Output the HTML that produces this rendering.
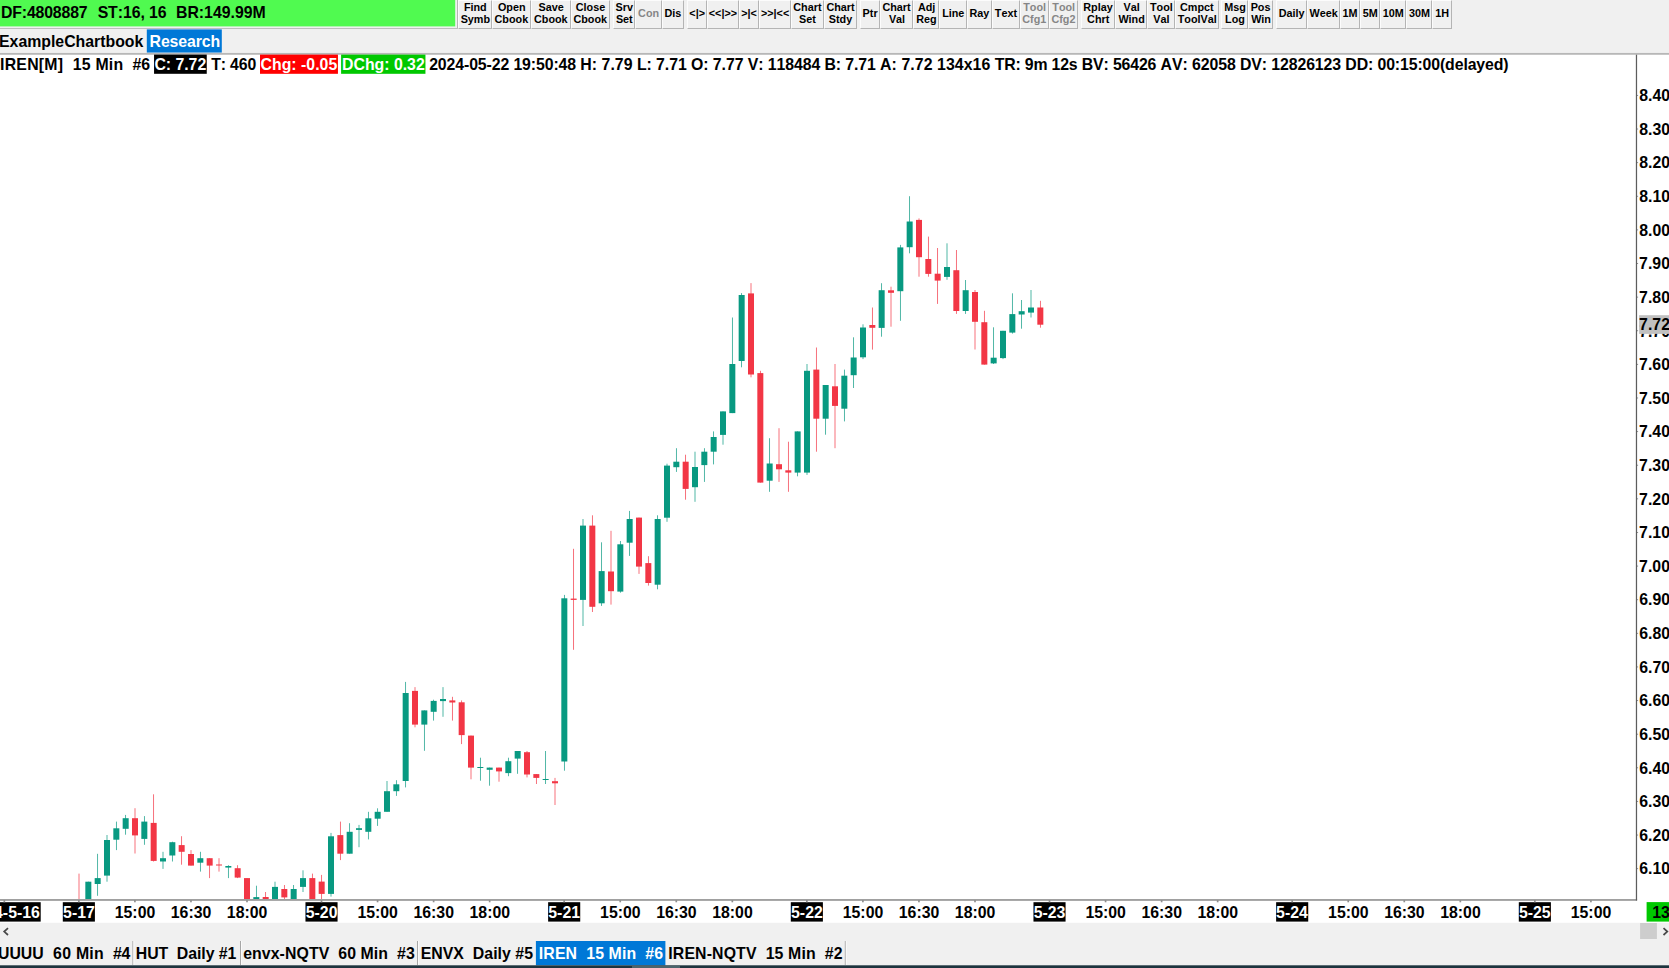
<!DOCTYPE html>
<html><head><meta charset="utf-8"><title>Chart</title>
<style>
html,body{margin:0;padding:0}
body{width:1669px;height:968px;overflow:hidden;background:#F0F0F0;position:relative;font-family:"Liberation Sans",Arial,sans-serif;font-weight:bold;color:#000;font-kerning:none}
div{position:absolute;box-sizing:border-box;white-space:pre}
svg{position:absolute;left:0;top:0}
.tb{top:0;height:28.9px;border-left:1px solid #FCFCFC;border-top:1px solid #FCFCFC;border-right:1px solid #B4B4B4;border-bottom:1px solid #B4B4B4}
</style></head><body>
<svg width="1669" height="968" viewBox="0 0 1669 968">
<rect x="0.00" y="0.00" width="455.20" height="26.40" fill="#50FA50"/>
<rect x="146.80" y="29.40" width="75.00" height="23.20" fill="#0078D7"/>
<rect x="0.00" y="52.90" width="1669.00" height="0.80" fill="#D4D4D4"/>
<rect x="0.00" y="53.60" width="1669.00" height="1.10" fill="#808080"/>
<rect x="0.00" y="54.60" width="1669.00" height="868.20" fill="#fff"/>
<rect x="154.05" y="54.60" width="52.70" height="19.20" fill="#000"/>
<rect x="260.00" y="54.60" width="77.95" height="19.20" fill="#FF0000"/>
<rect x="341.10" y="54.60" width="84.35" height="19.20" fill="#00C800"/>
<rect x="535.90" y="941.00" width="129.50" height="24.30" fill="#0078D7"/>
<rect x="132.40" y="941.00" width="1.00" height="24.00" fill="#A6A6A6"/>
<rect x="133.40" y="941.00" width="1.00" height="24.00" fill="#FAFAFA"/>
<rect x="240.00" y="941.00" width="1.00" height="24.00" fill="#A6A6A6"/>
<rect x="241.00" y="941.00" width="1.00" height="24.00" fill="#FAFAFA"/>
<rect x="417.00" y="941.00" width="1.00" height="24.00" fill="#A6A6A6"/>
<rect x="418.00" y="941.00" width="1.00" height="24.00" fill="#FAFAFA"/>
<rect x="844.80" y="941.00" width="1.00" height="24.00" fill="#A6A6A6"/>
<rect x="845.80" y="941.00" width="1.00" height="24.00" fill="#FAFAFA"/>
<rect x="0.00" y="902.20" width="40.70" height="19.40" fill="#000"/>
<rect x="62.80" y="902.20" width="32.10" height="19.40" fill="#000"/>
<rect x="305.47" y="902.20" width="32.10" height="19.40" fill="#000"/>
<rect x="548.13" y="902.20" width="32.10" height="19.40" fill="#000"/>
<rect x="790.80" y="902.20" width="32.10" height="19.40" fill="#000"/>
<rect x="1033.47" y="902.20" width="32.10" height="19.40" fill="#000"/>
<rect x="1276.13" y="902.20" width="32.10" height="19.40" fill="#000"/>
<rect x="1518.80" y="902.20" width="32.10" height="19.40" fill="#000"/>
<rect x="1646.60" y="902.10" width="22.40" height="19.50" fill="#00C800"/>
<rect x="1640.10" y="923.00" width="16.80" height="16.00" fill="#CDCDCD"/>
<defs><clipPath id="cp"><rect x="0" y="55" width="1636" height="844"/></clipPath></defs>
<g clip-path="url(#cp)">
<rect x="78.65" y="873.6" width="0.7" height="36.4" fill="#F23645"/>
<rect x="76.00" y="900.0" width="6" height="10.0" fill="#F23645"/>
<rect x="87.98" y="881.7" width="0.7" height="28.3" fill="#089981"/>
<rect x="85.33" y="881.7" width="6" height="28.3" fill="#089981"/>
<rect x="97.32" y="853.8" width="0.7" height="42.0" fill="#089981"/>
<rect x="94.67" y="878.1" width="6" height="5.9" fill="#089981"/>
<rect x="106.65" y="835.0" width="0.7" height="46.7" fill="#089981"/>
<rect x="104.00" y="840.0" width="6" height="35.6" fill="#089981"/>
<rect x="115.98" y="821.6" width="0.7" height="28.5" fill="#089981"/>
<rect x="113.33" y="828.3" width="6" height="11.4" fill="#089981"/>
<rect x="125.32" y="814.9" width="0.7" height="19.8" fill="#089981"/>
<rect x="122.67" y="818.2" width="6" height="10.6" fill="#089981"/>
<rect x="134.65" y="808.2" width="0.7" height="45.3" fill="#F23645"/>
<rect x="132.00" y="818.2" width="6" height="17.2" fill="#F23645"/>
<rect x="143.98" y="816.1" width="0.7" height="28.7" fill="#089981"/>
<rect x="141.33" y="821.6" width="6" height="17.3" fill="#089981"/>
<rect x="153.32" y="794.3" width="0.7" height="67.2" fill="#F23645"/>
<rect x="150.67" y="822.9" width="6" height="38.0" fill="#F23645"/>
<rect x="162.65" y="851.8" width="0.7" height="17.1" fill="#089981"/>
<rect x="160.00" y="858.2" width="6" height="3.3" fill="#089981"/>
<rect x="171.98" y="841.7" width="0.7" height="19.8" fill="#089981"/>
<rect x="169.33" y="842.2" width="6" height="13.3" fill="#089981"/>
<rect x="181.32" y="836.2" width="0.7" height="28.5" fill="#F23645"/>
<rect x="178.67" y="845.1" width="6" height="6.7" fill="#F23645"/>
<rect x="190.65" y="850.1" width="0.7" height="15.5" fill="#F23645"/>
<rect x="188.00" y="854.0" width="6" height="11.6" fill="#F23645"/>
<rect x="199.98" y="851.8" width="0.7" height="19.8" fill="#089981"/>
<rect x="197.33" y="858.2" width="6" height="4.5" fill="#089981"/>
<rect x="209.32" y="858.2" width="0.7" height="19.9" fill="#F23645"/>
<rect x="206.67" y="858.2" width="6" height="7.4" fill="#F23645"/>
<rect x="218.65" y="858.2" width="0.7" height="13.4" fill="#F23645"/>
<rect x="216.00" y="864.5" width="6" height="1.0" fill="#F23645"/>
<rect x="227.98" y="865.2" width="0.7" height="12.9" fill="#089981"/>
<rect x="225.33" y="866.0" width="6" height="1.6" fill="#089981"/>
<rect x="237.32" y="865.2" width="0.7" height="12.9" fill="#F23645"/>
<rect x="234.67" y="868.2" width="6" height="9.4" fill="#F23645"/>
<rect x="246.65" y="878.1" width="0.7" height="31.9" fill="#F23645"/>
<rect x="244.00" y="878.1" width="6" height="31.9" fill="#F23645"/>
<rect x="255.98" y="885.7" width="0.7" height="24.3" fill="#089981"/>
<rect x="253.33" y="897.1" width="6" height="12.9" fill="#089981"/>
<rect x="265.32" y="892.0" width="0.7" height="18.0" fill="#F23645"/>
<rect x="262.67" y="897.0" width="6" height="13.0" fill="#F23645"/>
<rect x="274.65" y="881.7" width="0.7" height="28.3" fill="#089981"/>
<rect x="272.00" y="886.9" width="6" height="23.1" fill="#089981"/>
<rect x="283.98" y="885.0" width="0.7" height="25.0" fill="#F23645"/>
<rect x="281.33" y="889.0" width="6" height="8.4" fill="#F23645"/>
<rect x="293.32" y="885.0" width="0.7" height="25.0" fill="#089981"/>
<rect x="290.67" y="889.0" width="6" height="21.0" fill="#089981"/>
<rect x="302.65" y="870.3" width="0.7" height="21.7" fill="#089981"/>
<rect x="300.00" y="878.1" width="6" height="8.8" fill="#089981"/>
<rect x="311.98" y="873.6" width="0.7" height="36.4" fill="#F23645"/>
<rect x="309.33" y="878.1" width="6" height="31.9" fill="#F23645"/>
<rect x="321.32" y="874.9" width="0.7" height="35.1" fill="#F23645"/>
<rect x="318.67" y="881.6" width="6" height="12.3" fill="#F23645"/>
<rect x="330.65" y="832.9" width="0.7" height="63.7" fill="#089981"/>
<rect x="328.00" y="836.3" width="6" height="57.6" fill="#089981"/>
<rect x="339.98" y="821.6" width="0.7" height="38.5" fill="#F23645"/>
<rect x="337.33" y="835.1" width="6" height="18.6" fill="#F23645"/>
<rect x="349.32" y="823.2" width="0.7" height="30.5" fill="#089981"/>
<rect x="346.67" y="831.8" width="6" height="21.9" fill="#089981"/>
<rect x="358.65" y="824.9" width="0.7" height="22.3" fill="#089981"/>
<rect x="356.00" y="828.2" width="6" height="1.7" fill="#089981"/>
<rect x="367.98" y="811.8" width="0.7" height="27.6" fill="#089981"/>
<rect x="365.33" y="818.3" width="6" height="13.5" fill="#089981"/>
<rect x="377.32" y="808.3" width="0.7" height="17.6" fill="#089981"/>
<rect x="374.67" y="811.8" width="6" height="6.9" fill="#089981"/>
<rect x="386.65" y="781.0" width="0.7" height="30.8" fill="#089981"/>
<rect x="384.00" y="791.2" width="6" height="20.6" fill="#089981"/>
<rect x="395.98" y="780.2" width="0.7" height="15.7" fill="#089981"/>
<rect x="393.33" y="784.3" width="6" height="6.9" fill="#089981"/>
<rect x="405.32" y="681.9" width="0.7" height="105.5" fill="#089981"/>
<rect x="402.67" y="693.0" width="6" height="88.0" fill="#089981"/>
<rect x="414.65" y="687.1" width="0.7" height="40.2" fill="#F23645"/>
<rect x="412.00" y="690.9" width="6" height="33.7" fill="#F23645"/>
<rect x="423.98" y="710.4" width="0.7" height="40.4" fill="#089981"/>
<rect x="421.33" y="710.4" width="6" height="14.2" fill="#089981"/>
<rect x="433.32" y="699.7" width="0.7" height="20.9" fill="#089981"/>
<rect x="430.67" y="700.9" width="6" height="10.9" fill="#089981"/>
<rect x="442.65" y="687.1" width="0.7" height="29.7" fill="#089981"/>
<rect x="440.00" y="699.0" width="6" height="2.1" fill="#089981"/>
<rect x="451.98" y="696.8" width="0.7" height="23.8" fill="#F23645"/>
<rect x="449.33" y="700.4" width="6" height="2.1" fill="#F23645"/>
<rect x="461.32" y="700.4" width="0.7" height="43.7" fill="#F23645"/>
<rect x="458.67" y="702.3" width="6" height="32.8" fill="#F23645"/>
<rect x="470.65" y="735.6" width="0.7" height="43.7" fill="#F23645"/>
<rect x="468.00" y="735.6" width="6" height="32.0" fill="#F23645"/>
<rect x="479.98" y="757.7" width="0.7" height="23.0" fill="#089981"/>
<rect x="477.33" y="767.0" width="6" height="1.0" fill="#089981"/>
<rect x="489.32" y="767.6" width="0.7" height="18.1" fill="#089981"/>
<rect x="486.67" y="767.6" width="6" height="2.2" fill="#089981"/>
<rect x="498.65" y="767.6" width="0.7" height="14.1" fill="#F23645"/>
<rect x="496.00" y="767.6" width="6" height="3.8" fill="#F23645"/>
<rect x="507.98" y="757.7" width="0.7" height="18.5" fill="#089981"/>
<rect x="505.33" y="761.2" width="6" height="11.9" fill="#089981"/>
<rect x="517.32" y="751.0" width="0.7" height="22.8" fill="#089981"/>
<rect x="514.67" y="751.0" width="6" height="7.6" fill="#089981"/>
<rect x="526.65" y="751.0" width="0.7" height="26.4" fill="#F23645"/>
<rect x="524.00" y="752.2" width="6" height="22.3" fill="#F23645"/>
<rect x="535.98" y="774.1" width="0.7" height="9.9" fill="#F23645"/>
<rect x="533.33" y="774.1" width="6" height="3.8" fill="#F23645"/>
<rect x="545.31" y="751.0" width="0.7" height="33.0" fill="#089981"/>
<rect x="542.66" y="779.0" width="6" height="1.0" fill="#089981"/>
<rect x="554.65" y="777.9" width="0.7" height="27.1" fill="#F23645"/>
<rect x="552.00" y="781.2" width="6" height="2.1" fill="#F23645"/>
<rect x="563.98" y="594.9" width="0.7" height="175.8" fill="#089981"/>
<rect x="561.33" y="598.3" width="6" height="163.2" fill="#089981"/>
<rect x="573.31" y="548.8" width="0.7" height="101.0" fill="#F23645"/>
<rect x="570.66" y="598.6" width="6" height="1.3" fill="#F23645"/>
<rect x="582.65" y="519.0" width="0.7" height="107.0" fill="#089981"/>
<rect x="580.00" y="525.6" width="6" height="74.3" fill="#089981"/>
<rect x="591.98" y="515.3" width="0.7" height="96.7" fill="#F23645"/>
<rect x="589.33" y="525.6" width="6" height="81.2" fill="#F23645"/>
<rect x="601.31" y="542.3" width="0.7" height="63.6" fill="#089981"/>
<rect x="598.66" y="571.1" width="6" height="32.2" fill="#089981"/>
<rect x="610.65" y="530.8" width="0.7" height="73.8" fill="#F23645"/>
<rect x="608.00" y="571.5" width="6" height="19.7" fill="#F23645"/>
<rect x="619.98" y="541.0" width="0.7" height="51.7" fill="#089981"/>
<rect x="617.33" y="544.3" width="6" height="47.3" fill="#089981"/>
<rect x="629.31" y="510.9" width="0.7" height="45.0" fill="#089981"/>
<rect x="626.66" y="519.0" width="6" height="23.7" fill="#089981"/>
<rect x="638.65" y="517.6" width="0.7" height="56.3" fill="#F23645"/>
<rect x="636.00" y="517.6" width="6" height="49.0" fill="#F23645"/>
<rect x="647.98" y="556.2" width="0.7" height="29.4" fill="#F23645"/>
<rect x="645.33" y="563.1" width="6" height="19.9" fill="#F23645"/>
<rect x="657.31" y="515.3" width="0.7" height="74.0" fill="#089981"/>
<rect x="654.66" y="519.0" width="6" height="65.7" fill="#089981"/>
<rect x="666.65" y="463.7" width="0.7" height="58.1" fill="#089981"/>
<rect x="664.00" y="465.6" width="6" height="52.1" fill="#089981"/>
<rect x="675.98" y="448.2" width="0.7" height="23.7" fill="#089981"/>
<rect x="673.33" y="461.7" width="6" height="5.5" fill="#089981"/>
<rect x="685.31" y="454.7" width="0.7" height="45.0" fill="#F23645"/>
<rect x="682.66" y="461.7" width="6" height="27.2" fill="#F23645"/>
<rect x="694.65" y="451.7" width="0.7" height="50.1" fill="#089981"/>
<rect x="692.00" y="467.0" width="6" height="20.2" fill="#089981"/>
<rect x="703.98" y="448.2" width="0.7" height="33.7" fill="#089981"/>
<rect x="701.33" y="451.7" width="6" height="13.4" fill="#089981"/>
<rect x="713.31" y="431.4" width="0.7" height="33.0" fill="#089981"/>
<rect x="710.66" y="437.0" width="6" height="14.7" fill="#089981"/>
<rect x="722.65" y="411.4" width="0.7" height="33.3" fill="#089981"/>
<rect x="720.00" y="411.4" width="6" height="23.5" fill="#089981"/>
<rect x="731.98" y="317.5" width="0.7" height="95.6" fill="#089981"/>
<rect x="729.33" y="364.0" width="6" height="49.1" fill="#089981"/>
<rect x="741.31" y="293.1" width="0.7" height="74.2" fill="#089981"/>
<rect x="738.66" y="295.0" width="6" height="66.0" fill="#089981"/>
<rect x="750.65" y="283.1" width="0.7" height="94.2" fill="#F23645"/>
<rect x="748.00" y="293.4" width="6" height="81.1" fill="#F23645"/>
<rect x="759.98" y="370.8" width="0.7" height="111.8" fill="#F23645"/>
<rect x="757.33" y="373.1" width="6" height="109.5" fill="#F23645"/>
<rect x="769.31" y="438.2" width="0.7" height="53.6" fill="#089981"/>
<rect x="766.66" y="463.5" width="6" height="17.2" fill="#089981"/>
<rect x="778.65" y="428.2" width="0.7" height="53.7" fill="#F23645"/>
<rect x="776.00" y="464.2" width="6" height="5.1" fill="#F23645"/>
<rect x="787.98" y="441.7" width="0.7" height="50.1" fill="#F23645"/>
<rect x="785.33" y="470.3" width="6" height="2.3" fill="#F23645"/>
<rect x="797.31" y="431.4" width="0.7" height="44.9" fill="#089981"/>
<rect x="794.66" y="431.4" width="6" height="41.2" fill="#089981"/>
<rect x="806.65" y="364.0" width="0.7" height="110.9" fill="#089981"/>
<rect x="804.00" y="370.8" width="6" height="101.8" fill="#089981"/>
<rect x="815.98" y="347.5" width="0.7" height="104.2" fill="#F23645"/>
<rect x="813.33" y="369.6" width="6" height="49.1" fill="#F23645"/>
<rect x="825.31" y="385.0" width="0.7" height="49.7" fill="#089981"/>
<rect x="822.66" y="385.0" width="6" height="33.7" fill="#089981"/>
<rect x="834.65" y="364.0" width="0.7" height="84.2" fill="#F23645"/>
<rect x="832.00" y="386.3" width="6" height="19.6" fill="#F23645"/>
<rect x="843.98" y="369.6" width="0.7" height="51.8" fill="#089981"/>
<rect x="841.33" y="375.7" width="6" height="33.0" fill="#089981"/>
<rect x="853.31" y="337.3" width="0.7" height="50.7" fill="#089981"/>
<rect x="850.66" y="357.5" width="6" height="17.7" fill="#089981"/>
<rect x="862.65" y="324.3" width="0.7" height="34.8" fill="#089981"/>
<rect x="860.00" y="327.5" width="6" height="29.8" fill="#089981"/>
<rect x="871.98" y="307.5" width="0.7" height="42.1" fill="#F23645"/>
<rect x="869.33" y="325.0" width="6" height="2.8" fill="#F23645"/>
<rect x="881.31" y="283.2" width="0.7" height="53.5" fill="#089981"/>
<rect x="878.66" y="290.2" width="6" height="37.7" fill="#089981"/>
<rect x="890.65" y="286.7" width="0.7" height="40.0" fill="#F23645"/>
<rect x="888.00" y="290.3" width="6" height="2.5" fill="#F23645"/>
<rect x="899.98" y="244.9" width="0.7" height="75.9" fill="#089981"/>
<rect x="897.33" y="247.4" width="6" height="43.8" fill="#089981"/>
<rect x="909.31" y="196.2" width="0.7" height="57.1" fill="#089981"/>
<rect x="906.66" y="221.5" width="6" height="25.7" fill="#089981"/>
<rect x="918.65" y="218.4" width="0.7" height="58.3" fill="#F23645"/>
<rect x="916.00" y="219.9" width="6" height="37.3" fill="#F23645"/>
<rect x="927.98" y="236.6" width="0.7" height="40.1" fill="#F23645"/>
<rect x="925.33" y="259.0" width="6" height="14.9" fill="#F23645"/>
<rect x="937.31" y="248.0" width="0.7" height="55.9" fill="#F23645"/>
<rect x="934.66" y="273.7" width="6" height="6.9" fill="#F23645"/>
<rect x="946.65" y="243.3" width="0.7" height="36.5" fill="#089981"/>
<rect x="944.00" y="267.0" width="6" height="9.9" fill="#089981"/>
<rect x="955.98" y="250.0" width="0.7" height="63.9" fill="#F23645"/>
<rect x="953.33" y="270.2" width="6" height="40.8" fill="#F23645"/>
<rect x="965.31" y="280.0" width="0.7" height="33.9" fill="#089981"/>
<rect x="962.66" y="290.2" width="6" height="20.8" fill="#089981"/>
<rect x="974.65" y="290.0" width="0.7" height="59.5" fill="#F23645"/>
<rect x="972.00" y="292.0" width="6" height="29.8" fill="#F23645"/>
<rect x="983.98" y="310.8" width="0.7" height="53.8" fill="#F23645"/>
<rect x="981.33" y="322.2" width="6" height="42.4" fill="#F23645"/>
<rect x="993.31" y="327.3" width="0.7" height="36.7" fill="#089981"/>
<rect x="990.66" y="357.7" width="6" height="5.7" fill="#089981"/>
<rect x="1002.65" y="330.8" width="0.7" height="28.3" fill="#089981"/>
<rect x="1000.00" y="330.8" width="6" height="27.3" fill="#089981"/>
<rect x="1011.98" y="293.3" width="0.7" height="40.3" fill="#089981"/>
<rect x="1009.33" y="314.1" width="6" height="18.5" fill="#089981"/>
<rect x="1021.31" y="300.0" width="0.7" height="28.7" fill="#089981"/>
<rect x="1018.66" y="311.2" width="6" height="3.3" fill="#089981"/>
<rect x="1030.65" y="290.0" width="0.7" height="27.5" fill="#089981"/>
<rect x="1028.00" y="307.5" width="6" height="5.1" fill="#089981"/>
<rect x="1039.98" y="300.8" width="0.7" height="26.9" fill="#F23645"/>
<rect x="1037.33" y="307.5" width="6" height="17.2" fill="#F23645"/>
</g>
<rect x="0.00" y="899.00" width="1637.10" height="1.90" fill="#A0A0A0"/>
<rect x="1635.85" y="54.70" width="1.25" height="845.80" fill="#5C5C5C"/>
<rect x="1637" y="94.95" width="1.1" height="0.9" fill="#808080"/>
<rect x="1637" y="128.57" width="1.1" height="0.9" fill="#808080"/>
<rect x="1637" y="162.19" width="1.1" height="0.9" fill="#808080"/>
<rect x="1637" y="195.81" width="1.1" height="0.9" fill="#808080"/>
<rect x="1637" y="229.43" width="1.1" height="0.9" fill="#808080"/>
<rect x="1637" y="263.05" width="1.1" height="0.9" fill="#808080"/>
<rect x="1637" y="296.67" width="1.1" height="0.9" fill="#808080"/>
<rect x="1637" y="330.29" width="1.1" height="0.9" fill="#808080"/>
<rect x="1637" y="363.91" width="1.1" height="0.9" fill="#808080"/>
<rect x="1637" y="397.53" width="1.1" height="0.9" fill="#808080"/>
<rect x="1637" y="431.15" width="1.1" height="0.9" fill="#808080"/>
<rect x="1637" y="464.77" width="1.1" height="0.9" fill="#808080"/>
<rect x="1637" y="498.39" width="1.1" height="0.9" fill="#808080"/>
<rect x="1637" y="532.01" width="1.1" height="0.9" fill="#808080"/>
<rect x="1637" y="565.63" width="1.1" height="0.9" fill="#808080"/>
<rect x="1637" y="599.25" width="1.1" height="0.9" fill="#808080"/>
<rect x="1637" y="632.87" width="1.1" height="0.9" fill="#808080"/>
<rect x="1637" y="666.49" width="1.1" height="0.9" fill="#808080"/>
<rect x="1637" y="700.11" width="1.1" height="0.9" fill="#808080"/>
<rect x="1637" y="733.73" width="1.1" height="0.9" fill="#808080"/>
<rect x="1637" y="767.35" width="1.1" height="0.9" fill="#808080"/>
<rect x="1637" y="800.97" width="1.1" height="0.9" fill="#808080"/>
<rect x="1637" y="834.59" width="1.1" height="0.9" fill="#808080"/>
<rect x="1637" y="868.21" width="1.1" height="0.9" fill="#808080"/>
<rect x="3.48" y="900.00" width="1.70" height="2.30" fill="#909090"/>
<rect x="78.00" y="900" width="1.7" height="2.3" fill="#909090"/>
<rect x="134.05" y="900" width="1.7" height="2.3" fill="#909090"/>
<rect x="190.10" y="900" width="1.7" height="2.3" fill="#909090"/>
<rect x="246.15" y="900" width="1.7" height="2.3" fill="#909090"/>
<rect x="320.67" y="900" width="1.7" height="2.3" fill="#909090"/>
<rect x="376.72" y="900" width="1.7" height="2.3" fill="#909090"/>
<rect x="432.77" y="900" width="1.7" height="2.3" fill="#909090"/>
<rect x="488.82" y="900" width="1.7" height="2.3" fill="#909090"/>
<rect x="563.33" y="900" width="1.7" height="2.3" fill="#909090"/>
<rect x="619.38" y="900" width="1.7" height="2.3" fill="#909090"/>
<rect x="675.43" y="900" width="1.7" height="2.3" fill="#909090"/>
<rect x="731.48" y="900" width="1.7" height="2.3" fill="#909090"/>
<rect x="806.00" y="900" width="1.7" height="2.3" fill="#909090"/>
<rect x="862.05" y="900" width="1.7" height="2.3" fill="#909090"/>
<rect x="918.10" y="900" width="1.7" height="2.3" fill="#909090"/>
<rect x="974.15" y="900" width="1.7" height="2.3" fill="#909090"/>
<rect x="1048.67" y="900" width="1.7" height="2.3" fill="#909090"/>
<rect x="1104.72" y="900" width="1.7" height="2.3" fill="#909090"/>
<rect x="1160.77" y="900" width="1.7" height="2.3" fill="#909090"/>
<rect x="1216.82" y="900" width="1.7" height="2.3" fill="#909090"/>
<rect x="1291.34" y="900" width="1.7" height="2.3" fill="#909090"/>
<rect x="1347.38" y="900" width="1.7" height="2.3" fill="#909090"/>
<rect x="1403.43" y="900" width="1.7" height="2.3" fill="#909090"/>
<rect x="1459.49" y="900" width="1.7" height="2.3" fill="#909090"/>
<rect x="1534.00" y="900" width="1.7" height="2.3" fill="#909090"/>
<rect x="1590.05" y="900" width="1.7" height="2.3" fill="#909090"/>
<rect x="0.00" y="965.30" width="1669.00" height="2.70" fill="#1D343E"/>
<rect x="632.00" y="966.00" width="48.00" height="2.00" fill="#4B646C"/>
<path d="M8 928.2 L4.2 931.6 L8 935" fill="none" stroke="#484848" stroke-width="1.7"/><path d="M1663.5 928.2 L1667.3 931.6 L1663.5 935" fill="none" stroke="#484848" stroke-width="1.7"/>
</svg>
<div style="left:457px;top:0;width:1px;height:28px;background:#B4B4B4"></div>
<div style="left:0;top:28px;width:457.5px;height:1px;background:#BEBEBE"></div>
<div class="t" style="left:0.99px;top:4px;font-size:15.85px;line-height:18px;letter-spacing:-0.162px;color:#000;">DF:4808887</div><div class="t" style="left:97.64px;top:4px;font-size:15.85px;line-height:18px;letter-spacing:-0.071px;color:#000;">ST:16, 16</div><div class="t" style="left:175.94px;top:4px;font-size:15.85px;line-height:18px;letter-spacing:-0.004px;color:#000;">BR:149.99M</div>
<div class="tb" style="left:458px;width:34px"></div>
<div class="t" style="left:463.90px;top:1px;font-size:10.8px;line-height:12px;letter-spacing:0.000px;color:#000;">Find</div>
<div class="t" style="left:460.66px;top:13px;font-size:10.8px;line-height:12px;letter-spacing:0.000px;color:#000;">Symb</div>
<div class="tb" style="left:492px;width:39px"></div>
<div class="t" style="left:497.91px;top:1px;font-size:10.8px;line-height:12px;letter-spacing:0.000px;color:#000;">Open</div>
<div class="t" style="left:494.57px;top:13px;font-size:10.8px;line-height:12px;letter-spacing:0.000px;color:#000;">Cbook</div>
<div class="tb" style="left:531px;width:40px"></div>
<div class="t" style="left:538.47px;top:1px;font-size:10.8px;line-height:12px;letter-spacing:0.000px;color:#000;">Save</div>
<div class="t" style="left:534.02px;top:13px;font-size:10.8px;line-height:12px;letter-spacing:0.000px;color:#000;">Cbook</div>
<div class="tb" style="left:571px;width:39px"></div>
<div class="t" style="left:575.76px;top:1px;font-size:10.8px;line-height:12px;letter-spacing:0.000px;color:#000;">Close</div>
<div class="t" style="left:573.47px;top:13px;font-size:10.8px;line-height:12px;letter-spacing:0.000px;color:#000;">Cbook</div>
<div class="tb" style="left:613px;width:22px"></div>
<div class="t" style="left:615.56px;top:1px;font-size:10.8px;line-height:12px;letter-spacing:0.000px;color:#000;">Srv</div>
<div class="t" style="left:615.91px;top:13px;font-size:10.8px;line-height:12px;letter-spacing:0.000px;color:#000;">Set</div>
<div class="tb" style="left:635px;width:27px"></div>
<div class="t" style="left:638.12px;top:7px;font-size:10.8px;line-height:12px;letter-spacing:0.000px;color:#868686;">Con</div>
<div class="tb" style="left:662px;width:22px"></div>
<div class="t" style="left:664.41px;top:7px;font-size:10.8px;line-height:12px;letter-spacing:0.000px;color:#000;">Dis</div>
<div class="tb" style="left:687px;width:20px"></div>
<div class="t" style="left:689.37px;top:7px;font-size:10.8px;line-height:12px;letter-spacing:0.000px;color:#000;">&lt;|&gt;</div>
<div class="tb" style="left:707px;width:32px"></div>
<div class="t" style="left:708.77px;top:7px;font-size:10.8px;line-height:12px;letter-spacing:0.000px;color:#000;">&lt;&lt;|&gt;&gt;</div>
<div class="tb" style="left:739px;width:20px"></div>
<div class="t" style="left:741.22px;top:7px;font-size:10.8px;line-height:12px;letter-spacing:0.000px;color:#000;">&gt;|&lt;</div>
<div class="tb" style="left:759px;width:32px"></div>
<div class="t" style="left:760.97px;top:7px;font-size:10.8px;line-height:12px;letter-spacing:0.000px;color:#000;">&gt;&gt;|&lt;&lt;</div>
<div class="tb" style="left:791px;width:33px"></div>
<div class="t" style="left:793.29px;top:1px;font-size:10.8px;line-height:12px;letter-spacing:0.000px;color:#000;">Chart</div>
<div class="t" style="left:799.06px;top:13px;font-size:10.8px;line-height:12px;letter-spacing:0.000px;color:#000;">Set</div>
<div class="tb" style="left:824px;width:33px"></div>
<div class="t" style="left:826.39px;top:1px;font-size:10.8px;line-height:12px;letter-spacing:0.000px;color:#000;">Chart</div>
<div class="t" style="left:828.82px;top:13px;font-size:10.8px;line-height:12px;letter-spacing:0.000px;color:#000;">Stdy</div>
<div class="tb" style="left:860px;width:20px"></div>
<div class="t" style="left:862.62px;top:7px;font-size:10.8px;line-height:12px;letter-spacing:0.000px;color:#000;">Ptr</div>
<div class="tb" style="left:880px;width:33px"></div>
<div class="t" style="left:882.39px;top:1px;font-size:10.8px;line-height:12px;letter-spacing:0.000px;color:#000;">Chart</div>
<div class="t" style="left:888.89px;top:13px;font-size:10.8px;line-height:12px;letter-spacing:0.000px;color:#000;">Val</div>
<div class="tb" style="left:913px;width:26px"></div>
<div class="t" style="left:917.90px;top:1px;font-size:10.8px;line-height:12px;letter-spacing:0.000px;color:#000;">Adj</div>
<div class="t" style="left:916.15px;top:13px;font-size:10.8px;line-height:12px;letter-spacing:0.000px;color:#000;">Reg</div>
<div class="tb" style="left:939px;width:28px"></div>
<div class="t" style="left:942.17px;top:7px;font-size:10.8px;line-height:12px;letter-spacing:0.000px;color:#000;">Line</div>
<div class="tb" style="left:967px;width:25px"></div>
<div class="t" style="left:969.56px;top:7px;font-size:10.8px;line-height:12px;letter-spacing:0.000px;color:#000;">Ray</div>
<div class="tb" style="left:992px;width:28px"></div>
<div class="t" style="left:994.85px;top:7px;font-size:10.8px;line-height:12px;letter-spacing:0.000px;color:#000;">Text</div>
<div class="tb" style="left:1020px;width:29px"></div>
<div class="t" style="left:1023.28px;top:1px;font-size:10.8px;line-height:12px;letter-spacing:0.000px;color:#868686;">Tool</div>
<div class="t" style="left:1022.28px;top:13px;font-size:10.8px;line-height:12px;letter-spacing:0.000px;color:#868686;">Cfg1</div>
<div class="tb" style="left:1049px;width:29px"></div>
<div class="t" style="left:1052.33px;top:1px;font-size:10.8px;line-height:12px;letter-spacing:0.000px;color:#868686;">Tool</div>
<div class="t" style="left:1051.40px;top:13px;font-size:10.8px;line-height:12px;letter-spacing:0.000px;color:#868686;">Cfg2</div>
<div class="tb" style="left:1081px;width:34px"></div>
<div class="t" style="left:1083.31px;top:1px;font-size:10.8px;line-height:12px;letter-spacing:0.000px;color:#000;">Rplay</div>
<div class="t" style="left:1087.10px;top:13px;font-size:10.8px;line-height:12px;letter-spacing:0.000px;color:#000;">Chrt</div>
<div class="tb" style="left:1115px;width:32px"></div>
<div class="t" style="left:1123.49px;top:1px;font-size:10.8px;line-height:12px;letter-spacing:0.000px;color:#000;">Val</div>
<div class="t" style="left:1118.41px;top:13px;font-size:10.8px;line-height:12px;letter-spacing:0.000px;color:#000;">Wind</div>
<div class="tb" style="left:1147px;width:28px"></div>
<div class="t" style="left:1150.03px;top:1px;font-size:10.8px;line-height:12px;letter-spacing:0.000px;color:#000;">Tool</div>
<div class="t" style="left:1153.34px;top:13px;font-size:10.8px;line-height:12px;letter-spacing:0.000px;color:#000;">Val</div>
<div class="tb" style="left:1175px;width:44px"></div>
<div class="t" style="left:1179.99px;top:1px;font-size:10.8px;line-height:12px;letter-spacing:0.000px;color:#000;">Cmpct</div>
<div class="t" style="left:1177.77px;top:13px;font-size:10.8px;line-height:12px;letter-spacing:0.000px;color:#000;">ToolVal</div>
<div class="tb" style="left:1221px;width:27px"></div>
<div class="t" style="left:1224.20px;top:1px;font-size:10.8px;line-height:12px;letter-spacing:0.000px;color:#000;">Msg</div>
<div class="t" style="left:1225.10px;top:13px;font-size:10.8px;line-height:12px;letter-spacing:0.000px;color:#000;">Log</div>
<div class="tb" style="left:1248px;width:25px"></div>
<div class="t" style="left:1250.66px;top:1px;font-size:10.8px;line-height:12px;letter-spacing:0.000px;color:#000;">Pos</div>
<div class="t" style="left:1251.13px;top:13px;font-size:10.8px;line-height:12px;letter-spacing:0.000px;color:#000;">Win</div>
<div class="tb" style="left:1276px;width:31px"></div>
<div class="t" style="left:1278.66px;top:7px;font-size:10.8px;line-height:12px;letter-spacing:0.000px;color:#000;">Daily</div>
<div class="tb" style="left:1307px;width:33px"></div>
<div class="t" style="left:1309.58px;top:7px;font-size:10.8px;line-height:12px;letter-spacing:0.000px;color:#000;">Week</div>
<div class="tb" style="left:1340px;width:20px"></div>
<div class="t" style="left:1342.62px;top:7px;font-size:10.8px;line-height:12px;letter-spacing:0.000px;color:#000;">1M</div>
<div class="tb" style="left:1360px;width:20px"></div>
<div class="t" style="left:1362.69px;top:7px;font-size:10.8px;line-height:12px;letter-spacing:0.000px;color:#000;">5M</div>
<div class="tb" style="left:1380px;width:26px"></div>
<div class="t" style="left:1382.77px;top:7px;font-size:10.8px;line-height:12px;letter-spacing:0.000px;color:#000;">10M</div>
<div class="tb" style="left:1406px;width:26px"></div>
<div class="t" style="left:1409.08px;top:7px;font-size:10.8px;line-height:12px;letter-spacing:0.000px;color:#000;">30M</div>
<div class="tb" style="left:1432px;width:20px"></div>
<div class="t" style="left:1435.27px;top:7px;font-size:10.8px;line-height:12px;letter-spacing:0.000px;color:#000;">1H</div>
<div class="t" style="left:-0.96px;top:33px;font-size:15.85px;line-height:18px;letter-spacing:-0.007px;color:#000;">ExampleChartbook</div><div class="t" style="left:149.54px;top:33px;font-size:15.85px;line-height:18px;letter-spacing:-0.090px;color:#fff;">Research</div>
<div class="t" style="left:0.09px;top:56px;font-size:15.85px;line-height:18px;letter-spacing:0.212px;color:#000;">IREN[M]</div><div class="t" style="left:72.80px;top:56px;font-size:15.85px;line-height:18px;letter-spacing:0.212px;color:#000;">15 Min</div><div class="t" style="left:132.53px;top:56px;font-size:15.85px;line-height:18px;letter-spacing:0.014px;color:#000;">#6</div><div class="t" style="left:154.38px;top:56px;font-size:15.85px;line-height:18px;letter-spacing:-0.020px;color:#fff;">C: 7.72</div><div class="t" style="left:211.22px;top:56px;font-size:15.85px;line-height:18px;letter-spacing:-0.156px;color:#000;">T: 460</div><div class="t" style="left:260.55px;top:56px;font-size:15.85px;line-height:18px;letter-spacing:0.008px;color:#fff;">Chg: -0.05</div><div class="t" style="left:342.10px;top:56px;font-size:15.85px;line-height:18px;letter-spacing:-0.017px;color:#fff;">DChg: 0.32</div><div class="t" style="left:429.15px;top:56px;font-size:15.85px;line-height:18px;letter-spacing:-0.107px;color:#000;">2024-05-22 19:50:48</div><div class="t" style="left:580.34px;top:56px;font-size:15.85px;line-height:18px;letter-spacing:0.040px;color:#000;">H: 7.79</div><div class="t" style="left:637.04px;top:56px;font-size:15.85px;line-height:18px;letter-spacing:-0.088px;color:#000;">L: 7.71</div><div class="t" style="left:690.95px;top:56px;font-size:15.85px;line-height:18px;letter-spacing:-0.053px;color:#000;">O: 7.77</div><div class="t" style="left:747.79px;top:56px;font-size:15.85px;line-height:18px;letter-spacing:-0.080px;color:#000;">V: 118484</div><div class="t" style="left:824.54px;top:56px;font-size:15.85px;line-height:18px;letter-spacing:-0.102px;color:#000;">B: 7.71</div><div class="t" style="left:880.11px;top:56px;font-size:15.85px;line-height:18px;letter-spacing:0.069px;color:#000;">A: 7.72 134x16</div><div class="t" style="left:994.82px;top:56px;font-size:15.85px;line-height:18px;letter-spacing:-0.187px;color:#000;">TR: 9m 12s</div><div class="t" style="left:1081.74px;top:56px;font-size:15.85px;line-height:18px;letter-spacing:-0.131px;color:#000;">BV: 56426</div><div class="t" style="left:1160.61px;top:56px;font-size:15.85px;line-height:18px;letter-spacing:-0.074px;color:#000;">AV: 62058</div><div class="t" style="left:1240.04px;top:56px;font-size:15.85px;line-height:18px;letter-spacing:-0.102px;color:#000;">DV: 12826123</div><div class="t" style="left:1345.34px;top:56px;font-size:15.85px;line-height:18px;letter-spacing:-0.113px;color:#000;">DD: 00:15:00(delayed)</div>
<div class="t" style="left:1639.30px;top:87px;font-size:15.85px;line-height:18px;letter-spacing:0.000px;color:#000;">8.40</div>
<div class="t" style="left:1639.30px;top:121px;font-size:15.85px;line-height:18px;letter-spacing:0.000px;color:#000;">8.30</div>
<div class="t" style="left:1639.30px;top:154px;font-size:15.85px;line-height:18px;letter-spacing:0.000px;color:#000;">8.20</div>
<div class="t" style="left:1639.30px;top:188px;font-size:15.85px;line-height:18px;letter-spacing:0.000px;color:#000;">8.10</div>
<div class="t" style="left:1639.30px;top:222px;font-size:15.85px;line-height:18px;letter-spacing:0.000px;color:#000;">8.00</div>
<div class="t" style="left:1639.12px;top:255px;font-size:15.85px;line-height:18px;letter-spacing:0.000px;color:#000;">7.90</div>
<div class="t" style="left:1639.12px;top:289px;font-size:15.85px;line-height:18px;letter-spacing:0.000px;color:#000;">7.80</div>
<div class="t" style="left:1639.12px;top:323px;font-size:15.85px;line-height:18px;letter-spacing:0.000px;color:#000;">7.70</div>
<div class="t" style="left:1639.12px;top:356px;font-size:15.85px;line-height:18px;letter-spacing:0.000px;color:#000;">7.60</div>
<div class="t" style="left:1639.12px;top:390px;font-size:15.85px;line-height:18px;letter-spacing:0.000px;color:#000;">7.50</div>
<div class="t" style="left:1639.12px;top:423px;font-size:15.85px;line-height:18px;letter-spacing:0.000px;color:#000;">7.40</div>
<div class="t" style="left:1639.12px;top:457px;font-size:15.85px;line-height:18px;letter-spacing:0.000px;color:#000;">7.30</div>
<div class="t" style="left:1639.12px;top:491px;font-size:15.85px;line-height:18px;letter-spacing:0.000px;color:#000;">7.20</div>
<div class="t" style="left:1639.12px;top:524px;font-size:15.85px;line-height:18px;letter-spacing:0.000px;color:#000;">7.10</div>
<div class="t" style="left:1639.12px;top:558px;font-size:15.85px;line-height:18px;letter-spacing:0.000px;color:#000;">7.00</div>
<div class="t" style="left:1639.22px;top:591px;font-size:15.85px;line-height:18px;letter-spacing:0.000px;color:#000;">6.90</div>
<div class="t" style="left:1639.22px;top:625px;font-size:15.85px;line-height:18px;letter-spacing:0.000px;color:#000;">6.80</div>
<div class="t" style="left:1639.22px;top:659px;font-size:15.85px;line-height:18px;letter-spacing:0.000px;color:#000;">6.70</div>
<div class="t" style="left:1639.22px;top:692px;font-size:15.85px;line-height:18px;letter-spacing:0.000px;color:#000;">6.60</div>
<div class="t" style="left:1639.22px;top:726px;font-size:15.85px;line-height:18px;letter-spacing:0.000px;color:#000;">6.50</div>
<div class="t" style="left:1639.22px;top:760px;font-size:15.85px;line-height:18px;letter-spacing:0.000px;color:#000;">6.40</div>
<div class="t" style="left:1639.22px;top:793px;font-size:15.85px;line-height:18px;letter-spacing:0.000px;color:#000;">6.30</div>
<div class="t" style="left:1639.22px;top:827px;font-size:15.85px;line-height:18px;letter-spacing:0.000px;color:#000;">6.20</div>
<div class="t" style="left:1639.22px;top:860px;font-size:15.85px;line-height:18px;letter-spacing:0.000px;color:#000;">6.10</div>
<svg width="1669" height="968" viewBox="0 0 1669 968"><rect x="1639.10" y="315.20" width="29.90" height="18.70" fill="#C0C0C0"/></svg><div class="t" style="left:1639.12px;top:316px;font-size:15.85px;line-height:18px;letter-spacing:0.000px;color:#000;">7.72</div>
<div class="t" style="left:-32.39px;top:904px;font-size:15.85px;line-height:18px;letter-spacing:0.000px;color:#fff;">2024-5-16</div>

<div class="t" style="left:63.09px;top:904px;font-size:15.85px;line-height:18px;letter-spacing:0.000px;color:#fff;">5-17</div>
<div class="t" style="left:114.76px;top:904px;font-size:15.85px;line-height:18px;letter-spacing:0.000px;color:#000;">15:00</div>
<div class="t" style="left:170.81px;top:904px;font-size:15.85px;line-height:18px;letter-spacing:0.000px;color:#000;">16:30</div>
<div class="t" style="left:226.86px;top:904px;font-size:15.85px;line-height:18px;letter-spacing:0.000px;color:#000;">18:00</div>

<div class="t" style="left:305.74px;top:904px;font-size:15.85px;line-height:18px;letter-spacing:0.000px;color:#fff;">5-20</div>
<div class="t" style="left:357.42px;top:904px;font-size:15.85px;line-height:18px;letter-spacing:0.000px;color:#000;">15:00</div>
<div class="t" style="left:413.47px;top:904px;font-size:15.85px;line-height:18px;letter-spacing:0.000px;color:#000;">16:30</div>
<div class="t" style="left:469.52px;top:904px;font-size:15.85px;line-height:18px;letter-spacing:0.000px;color:#000;">18:00</div>

<div class="t" style="left:548.30px;top:904px;font-size:15.85px;line-height:18px;letter-spacing:0.000px;color:#fff;">5-21</div>
<div class="t" style="left:600.09px;top:904px;font-size:15.85px;line-height:18px;letter-spacing:0.000px;color:#000;">15:00</div>
<div class="t" style="left:656.14px;top:904px;font-size:15.85px;line-height:18px;letter-spacing:0.000px;color:#000;">16:30</div>
<div class="t" style="left:712.19px;top:904px;font-size:15.85px;line-height:18px;letter-spacing:0.000px;color:#000;">18:00</div>

<div class="t" style="left:791.06px;top:904px;font-size:15.85px;line-height:18px;letter-spacing:0.000px;color:#fff;">5-22</div>
<div class="t" style="left:842.76px;top:904px;font-size:15.85px;line-height:18px;letter-spacing:0.000px;color:#000;">15:00</div>
<div class="t" style="left:898.81px;top:904px;font-size:15.85px;line-height:18px;letter-spacing:0.000px;color:#000;">16:30</div>
<div class="t" style="left:954.86px;top:904px;font-size:15.85px;line-height:18px;letter-spacing:0.000px;color:#000;">18:00</div>

<div class="t" style="left:1033.70px;top:904px;font-size:15.85px;line-height:18px;letter-spacing:0.000px;color:#fff;">5-23</div>
<div class="t" style="left:1085.42px;top:904px;font-size:15.85px;line-height:18px;letter-spacing:0.000px;color:#000;">15:00</div>
<div class="t" style="left:1141.47px;top:904px;font-size:15.85px;line-height:18px;letter-spacing:0.000px;color:#000;">16:30</div>
<div class="t" style="left:1197.52px;top:904px;font-size:15.85px;line-height:18px;letter-spacing:0.000px;color:#000;">18:00</div>

<div class="t" style="left:1276.12px;top:904px;font-size:15.85px;line-height:18px;letter-spacing:0.000px;color:#fff;">5-24</div>
<div class="t" style="left:1328.09px;top:904px;font-size:15.85px;line-height:18px;letter-spacing:0.000px;color:#000;">15:00</div>
<div class="t" style="left:1384.14px;top:904px;font-size:15.85px;line-height:18px;letter-spacing:0.000px;color:#000;">16:30</div>
<div class="t" style="left:1440.19px;top:904px;font-size:15.85px;line-height:18px;letter-spacing:0.000px;color:#000;">18:00</div>

<div class="t" style="left:1518.97px;top:904px;font-size:15.85px;line-height:18px;letter-spacing:0.000px;color:#fff;">5-25</div>
<div class="t" style="left:1570.76px;top:904px;font-size:15.85px;line-height:18px;letter-spacing:0.000px;color:#000;">15:00</div>
<div class="t" style="left:1652.30px;top:904px;font-size:15.85px;line-height:18px;letter-spacing:0.000px;color:#000;">13</div>
<div class="t" style="left:-2.02px;top:945px;font-size:15.85px;line-height:18px;letter-spacing:0.000px;color:#000;">UUUU</div><div class="t" style="left:53.12px;top:945px;font-size:15.85px;line-height:18px;letter-spacing:0.250px;color:#000;">60 Min</div><div class="t" style="left:112.93px;top:945px;font-size:15.85px;line-height:18px;letter-spacing:-0.250px;color:#000;">#4</div><div class="t" style="left:135.74px;top:945px;font-size:15.85px;line-height:18px;letter-spacing:-0.050px;color:#000;">HUT  Daily #1</div><div class="t" style="left:243.18px;top:945px;font-size:15.85px;line-height:18px;letter-spacing:0.085px;color:#000;">envx-NQTV  60 Min  #3</div><div class="t" style="left:420.64px;top:945px;font-size:15.85px;line-height:18px;letter-spacing:0.040px;color:#000;">ENVX  Daily #5</div><div class="t" style="left:538.84px;top:945px;font-size:15.85px;line-height:18px;letter-spacing:0.120px;color:#fff;">IREN  15 Min  #6</div><div class="t" style="left:668.34px;top:945px;font-size:15.85px;line-height:18px;letter-spacing:0.128px;color:#000;">IREN-NQTV  15 Min  #2</div>
</body></html>
